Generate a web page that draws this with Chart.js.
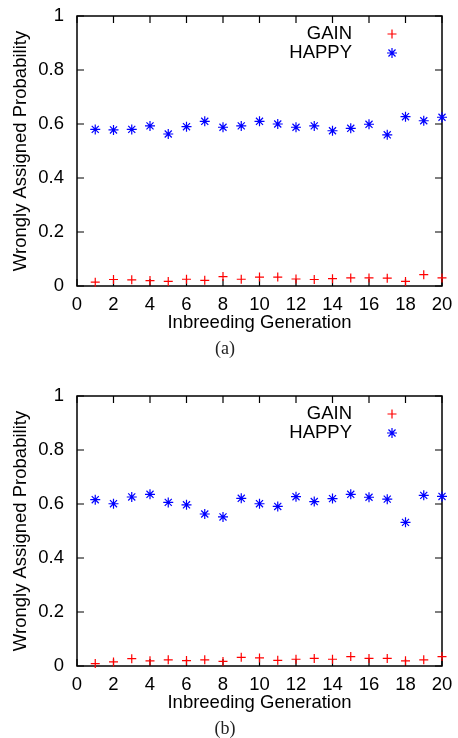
<!DOCTYPE html>
<html>
<head>
<meta charset="utf-8">
<script src="https://cdn.jsdelivr.net/npm/chart.js@4/dist/chart.umd.min.js"></script>
<style>
    body { margin: 0; background: #fff; width: 458px; height: 738px; position: relative; overflow: hidden; }
    .panel { position: absolute; left: 0; width: 458px; height: 340px; }
    .caption { position: absolute; width: 60px; margin-left: -30px; text-align: center;
               font-family: "Liberation Serif", "DejaVu Serif", serif; font-size: 18px; color: #222; }
</style>
</head>
<body>
<div class="panel" style="top:0"><canvas id="chartA"></canvas></div>
<div class="caption" style="left:225px; top:338px">(a)</div>
<div class="panel" style="top:380px"><canvas id="chartB"></canvas></div>
<div class="caption" style="left:225px; top:718px">(b)</div>
<script>
// Daten
const generations = [1, 2, 3, 4, 5, 6, 7, 8, 9, 10, 11, 12, 13, 14, 15, 16, 17, 18, 19, 20];

const gainA  = [0.014, 0.024, 0.023, 0.020, 0.017, 0.025, 0.021, 0.035, 0.025, 0.033,
                0.033, 0.026, 0.024, 0.027, 0.030, 0.030, 0.029, 0.017, 0.042, 0.030];
const happyA = [0.580, 0.578, 0.580, 0.593, 0.563, 0.590, 0.610, 0.588, 0.593, 0.610,
                0.600, 0.588, 0.593, 0.575, 0.584, 0.599, 0.560, 0.627, 0.612, 0.625];

const gainB  = [0.009, 0.015, 0.027, 0.019, 0.023, 0.020, 0.023, 0.017, 0.032, 0.030,
                0.021, 0.025, 0.028, 0.025, 0.035, 0.028, 0.028, 0.019, 0.023, 0.035];
const happyB = [0.616, 0.601, 0.626, 0.636, 0.606, 0.597, 0.563, 0.552, 0.621, 0.601,
                0.591, 0.627, 0.609, 0.620, 0.636, 0.625, 0.618, 0.532, 0.632, 0.628];

const seriesNames = ['GAIN', 'HAPPY'];
const xTitle = 'Inbreeding Generation';
const yTitle = 'Wrongly Assigned Probability';

const FONT = 'Liberation Sans';
const RED = '#ff0000';
const BLUE = '#0000ff';

// Rahmen und innere Ticks wie bei gnuplot
const framePlugin = {
    id: 'frame',
    beforeDatasetsDraw(chart) {
        const { ctx, chartArea: a, scales } = chart;
        ctx.save();
        ctx.strokeStyle = '#000';
        ctx.lineWidth = 1.2;
        ctx.beginPath();
        scales.x.ticks.forEach(t => {
            const px = scales.x.getPixelForValue(t.value);
            ctx.moveTo(px, a.bottom); ctx.lineTo(px, a.bottom - 7);
            ctx.moveTo(px, a.top); ctx.lineTo(px, a.top + 7);
        });
        scales.y.ticks.forEach(t => {
            const py = scales.y.getPixelForValue(t.value);
            ctx.moveTo(a.left, py); ctx.lineTo(a.left + 7, py);
            ctx.moveTo(a.right, py); ctx.lineTo(a.right - 7, py);
        });
        ctx.stroke();
        ctx.lineWidth = 1.5;
        ctx.strokeRect(a.left, a.top, a.right - a.left, a.bottom - a.top);
        ctx.restore();
    }
};

// Legende rechts oben: Text rechtsbündig, Symbol rechts daneben
const keyPlugin = {
    id: 'key',
    afterDraw(chart) {
        const { ctx, chartArea: a } = chart;
        ctx.save();
        ctx.font = '18.5px "' + FONT + '"';
        ctx.textAlign = 'right';
        ctx.textBaseline = 'middle';
        chart.data.datasets.forEach((ds, i) => {
            const y = a.top + 18 + i * 19;
            ctx.fillStyle = '#000';
            ctx.fillText(ds.label, a.right - 90, y);
            ctx.strokeStyle = ds.borderColor;
            ctx.fillStyle = ds.backgroundColor;
            Chart.helpers.drawPoint(ctx, {
                pointStyle: ds.pointStyle,
                radius: ds.pointRadius,
                borderWidth: ds.borderWidth
            }, a.right - 50, y);
        });
        ctx.restore();
    }
};

function makeChart(id, gain, happy) {
    const ctx = document.getElementById(id);
    return new Chart(ctx, {
        type: 'scatter',
        data: {
            datasets: [
                {
                    label: seriesNames[0],
                    data: generations.map((g, i) => ({ x: g, y: gain[i] })),
                    pointStyle: 'cross',
                    pointRadius: 4.5,
                    borderWidth: 1.2,
                    borderColor: RED,
                    backgroundColor: RED,
                    clip: false
                },
                {
                    label: seriesNames[1],
                    data: generations.map((g, i) => ({ x: g, y: happy[i] })),
                    pointStyle: 'star',
                    pointRadius: 5,
                    borderWidth: 1.2,
                    borderColor: BLUE,
                    backgroundColor: BLUE,
                    clip: false
                }
            ]
        },
        options: {
            responsive: true,
            maintainAspectRatio: false,
            animation: false,
            layout: { padding: { top: 16, right: 16, left: 0, bottom: 0 } },
            plugins: {
                legend: { display: false },
                tooltip: { enabled: false }
            },
            scales: {
                x: {
                    type: 'linear',
                    min: 0,
                    max: 20,
                    grid: { display: false, drawTicks: false },
                    border: { display: false },
                    ticks: {
                        stepSize: 2,
                        padding: 8,
                        maxRotation: 0,
                        color: '#000',
                        font: { family: FONT, size: 18.5 }
                    },
                    title: {
                        display: true,
                        text: xTitle,
                        color: '#000',
                        padding: { top: 0, bottom: 6 },
                        font: { family: FONT, size: 18.5 }
                    },
                    afterFit(scale) {
                        scale.height = 54;
                        scale.paddingLeft = 0;
                        scale.paddingRight = 0;
                    }
                },
                y: {
                    min: 0,
                    max: 1,
                    grid: { display: false, drawTicks: false },
                    border: { display: false },
                    ticks: {
                        stepSize: 0.2,
                        padding: 13,
                        color: '#000',
                        font: { family: FONT, size: 18.5 },
                        callback: v => String(Math.round(v * 10) / 10)
                    },
                    title: {
                        display: true,
                        text: yTitle,
                        color: '#000',
                        padding: { top: 10, bottom: 0 },
                        font: { family: FONT, size: 18.5 }
                    },
                    afterFit(scale) {
                        scale.width = 77;
                        scale.paddingTop = 0;
                        scale.paddingBottom = 0;
                    }
                }
            }
        },
        plugins: [framePlugin, keyPlugin]
    });
}

makeChart('chartA', gainA, happyA);
makeChart('chartB', gainB, happyB);
</script>
</body>
</html>
